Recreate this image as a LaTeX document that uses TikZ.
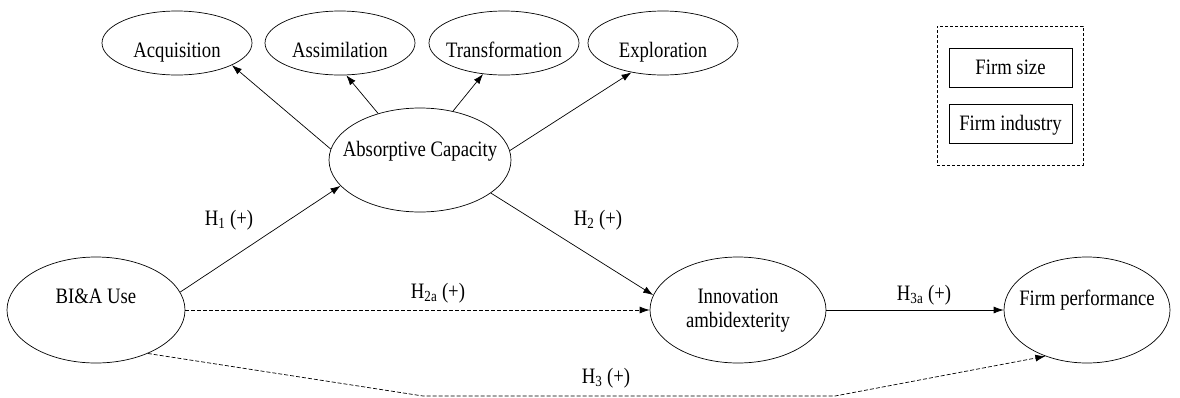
\documentclass[tikz,border=0pt]{standalone}
\usepackage{fontspec}
\setmainfont{Liberation Serif}[FakeStretch=0.85]
\usetikzlibrary{shapes.geometric,arrows.meta}
\begin{document}
\begin{tikzpicture}[x=1pt,y=-1pt,
  ell/.style={draw,ellipse,inner sep=0pt,line width=0.7pt},
  sml/.style={ell,minimum width=150pt,minimum height=64pt},
  txt/.style={anchor=base,inner sep=0pt,font=\fontsize{22}{26}\selectfont},
  box/.style={draw,rectangle,inner sep=0pt,line width=0.7pt,minimum width=123pt,minimum height=39pt},
  arr/.style={-{Latex[length=10pt,width=7pt]},line width=0.7pt},
  dsh/.style={arr,dash pattern=on 4pt off 2pt}]
\useasboundingbox (0,0) rectangle (1180,397);
% ellipses
\node[sml] (acq) at (177,43) {};
\node[sml] (ass) at (340,43) {};
\node[sml] (tra) at (504,43) {};
\node[sml] (exp) at (663,43) {};
\node[ell,minimum width=182pt,minimum height=104pt] (ac) at (420,160) {};
\node[ell,minimum width=178pt,minimum height=106pt] (bia) at (96,310) {};
\node[ell,minimum width=176pt,minimum height=106pt] (inn) at (738,310) {};
\node[ell,minimum width=166pt,minimum height=106pt] (fp) at (1087,310) {};
% texts
\node[txt] (tacq) at (177,57) {Acquisition};
\node[txt] (tass) at (340,57) {Assimilation};
\node[txt] (ttra) at (504,57) {Transformation};
\node[txt] (texp) at (663,57) {Exploration};
\node[txt] (tac) at (420,156) {Absorptive Capacity};
\node[txt] (tbia) at (96,303) {BI\&A Use};
\node[txt] (tinn1) at (738,303) {Innovation};
\node[txt] (tinn2) at (738,327) {ambidexterity};
\node[txt] (tfp) at (1087,305) {Firm performance};
% controls
\node[draw,rectangle,dash pattern=on 3pt off 2pt,line width=0.7pt,minimum width=146pt,minimum height=139pt] (ctl) at (1010,95.5) {};
\node[box] (size) at (1010.5,67.5) {};
\node[box] (ind) at (1010.5,123.5) {};
\node[txt] (tsize) at (1010.5,74) {Firm size};
\node[txt] (tind) at (1010.5,130) {Firm industry};
% connectors
\draw[arr] (ac.173.5) -- (acq.338.4);
\draw[arr] (ac.132.4) -- (ass.281.6);
\draw[arr] (ac.56.9) -- (tra.236.3);
\draw[arr] (ac.6.3) -- (exp.223.3);
\draw[arr] (bia.12.3) -- (ac.198.6);
\draw[arr] (ac.335.7) -- (inn.170.9);
\draw[dsh] (bia.east) -- (inn.west);
\draw[arr] (inn.east) -- (fp.west);
\coordinate (b1) at (423,396);
\coordinate (b2) at (835,396);
\draw[dsh] (bia.320.4) -- (b1) -- (b2) -- (fp.228.4);
% labels
\node[txt] (h1) at (229,225) {H\textsubscript{1} (+)};
\node[txt] (h2) at (598,225) {H\textsubscript{2} (+)};
\node[txt] (h2a) at (438,298) {H\textsubscript{2a} (+)};
\node[txt] (h3) at (606,383) {H\textsubscript{3} (+)};
\node[txt] (h3a) at (924,300) {H\textsubscript{3a} (+)};
\end{tikzpicture}
\end{document}
